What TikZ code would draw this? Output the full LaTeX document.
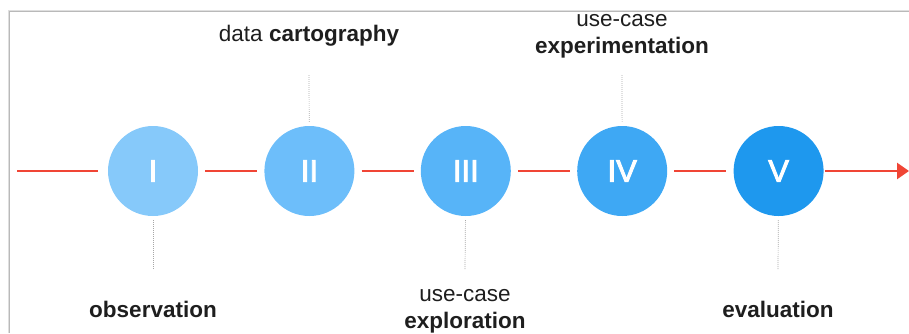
\documentclass[tikz,border=0pt]{standalone}
\usepackage{fontspec}
\setmainfont{Liberation Sans}
\newfontfamily\phasefont[FakeBold=3]{Liberation Sans}
\usepackage{tikz}
\usetikzlibrary{positioning,arrows.meta}

\definecolor{stepA}{HTML}{86C9FA}
\definecolor{stepB}{HTML}{6DBEFA}
\definecolor{stepC}{HTML}{57B4F8}
\definecolor{stepD}{HTML}{3EA8F4}
\definecolor{stepE}{HTML}{1E98EE}
\definecolor{flowred}{HTML}{F04535}
\definecolor{labeltext}{HTML}{1E1E1E}

\begin{document}
\begin{tikzpicture}[
	x=1pt, y=1pt,
	node distance = 66pt,
	phase/.style = {circle, fill=#1, draw=none, inner sep=0pt,
		minimum size=90pt, text=white,
		font=\phasefont\fontsize{31}{34}\selectfont},
	flow/.style = {draw=flowred, line width=2.6pt, shorten >=7pt, shorten <=7pt},
	tick/.style = {draw=gray!70, line width=0.7pt, dash pattern=on 0.8pt off 1.2pt,
		shorten <=4pt},
	caption/.style = {align=center, text=labeltext, inner sep=0pt,
		font=\fontsize{22.5}{27}\selectfont}
	]
	\useasboundingbox (0,0) rectangle (909,-333);
	% frame of the screenshot
	\draw[gray!25, line width=2.4pt] (9,-333) -- (9,-11) -- (909,-11);
	\draw[gray!55, line width=0.6pt] (9,-333) -- (9,-11) -- (909,-11);

	\node (c1) [phase=stepA] at (153,-171) {I};
	\node (c2) [phase=stepB, right=of c1] {II};
	\node (c3) [phase=stepC, right=of c2] {III};
	\node (c4) [phase=stepD, right=of c3] {IV};
	\node (c5) [phase=stepE, right=of c4] {V};
	%
	\coordinate (start) at (17,-171);
	\coordinate (finish) at (909,-171);
	\draw[flow, shorten <=0pt, shorten >=10pt] (start) -- (c1);
	\draw[flow] (c1) -- (c2);
	\draw[flow] (c2) -- (c3);
	\draw[flow] (c3) -- (c4);
	\draw[flow] (c4) -- (c5);
	\draw[flow, shorten <=1pt, shorten >=0pt,
		-{Triangle[length=12pt,width=16pt]}] (c5) -- (finish);
	%
	\node (l1) [caption] at (153,-309) {\textbf{observation}};
	\node (l2) [caption] at (309,-36) {data \textbf{cartography}};
	\node (l3) [caption] at (465,-311) {use-case\\\textbf{exploration}};
	\node (l4) [caption] at (622,-36) {use-case\\\textbf{experimentation}};
	\node (l5) [caption] at (778,-309) {\textbf{evaluation}};
	%
	\coordinate (t1) at (153,-270);
	\coordinate (t2) at (309,-75);
	\coordinate (t3) at (465,-270);
	\coordinate (t4) at (622,-75);
	\coordinate (t5) at (778,-270);
	\foreach \i in {1,...,5}
		\draw[tick] (c\i) -- (t\i);
\end{tikzpicture}
\end{document}
